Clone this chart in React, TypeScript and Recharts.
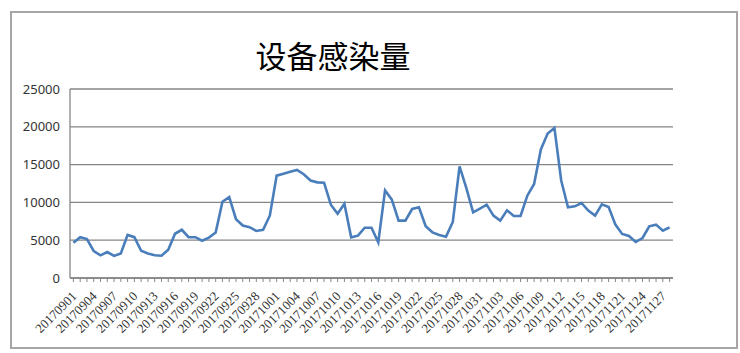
import React from 'react';
import { LineChart, Line, XAxis, YAxis, CartesianGrid } from 'recharts';

const title = '设备感染量';

const dates = [
  '20170901', '20170902', '20170903', '20170904', '20170905', '20170906', '20170907', '20170908', '20170909', '20170910',
  '20170911', '20170912', '20170913', '20170914', '20170915', '20170916', '20170917', '20170918', '20170919', '20170920',
  '20170921', '20170922', '20170923', '20170924', '20170925', '20170926', '20170927', '20170928', '20170929', '20170930',
  '20171001', '20171002', '20171003', '20171004', '20171005', '20171006', '20171007', '20171008', '20171009', '20171010',
  '20171011', '20171012', '20171013', '20171014', '20171015', '20171016', '20171017', '20171018', '20171019', '20171020',
  '20171021', '20171022', '20171023', '20171024', '20171025', '20171026', '20171027', '20171028', '20171029', '20171030',
  '20171031', '20171101', '20171102', '20171103', '20171104', '20171105', '20171106', '20171107', '20171108', '20171109',
  '20171110', '20171111', '20171112', '20171113', '20171114', '20171115', '20171116', '20171117', '20171118', '20171119',
  '20171120', '20171121', '20171122', '20171123', '20171124', '20171125', '20171126', '20171127', '20171128',
];

const infections = [
  4650, 5400, 5150, 3570, 3000, 3430, 2920, 3250, 5700, 5400,
  3600, 3250, 3000, 2950, 3750, 5850, 6380, 5400, 5400, 4930,
  5350, 6020, 10080, 10700, 7780, 6950, 6720, 6220, 6370, 8270,
  13540, 13800, 14050, 14290, 13720, 12900, 12650, 12610, 9700, 8500,
  9830, 5380, 5600, 6650, 6650, 4720, 11600, 10360, 7590, 7590,
  9130, 9350, 6840, 6040, 5690, 5470, 7410, 14770, 11900, 8690,
  9170, 9700, 8250, 7590, 8950, 8200, 8200, 10890, 12440, 17000,
  19100, 19850, 12900, 9350, 9480, 9920, 8910, 8250, 9750, 9390,
  7060, 5820, 5560, 4760, 5290, 6840, 7060, 6260, 6700,
];

const yTicks = [0, 5000, 10000, 15000, 20000, 25000];
const labelStep = 3;

const data = dates.map((d, i) => ({ date: d, value: infections[i] }));

const XTick = (props: any) => {
  const { x, y, payload } = props;
  const idx = dates.indexOf(payload.value);
  if (idx % labelStep !== 0) return <g />;
  const ax = x + 4;
  const ay = y + 13;
  return (
    <text
      x={ax}
      y={ay}
      textAnchor="end"
      transform={`rotate(-45 ${ax} ${ay})`}
      fontSize={13}
      fontFamily="'Liberation Serif', serif"
      fill="#333"
    >
      {payload.value}
    </text>
  );
};

export default function App() {
  return (
    <div style={{ position: 'relative', width: 740, height: 353, overflow: 'hidden', background: '#fff' }}>
      <style>{`html,body{margin:0;padding:0;overflow:hidden;background:#fff}`}</style>
      <div
        style={{
          position: 'absolute',
          left: 10,
          top: 11,
          width: 728,
          height: 338,
          boxSizing: 'border-box',
          border: '2px solid #a6a6a6',
        }}
      />
      <div style={{ position: 'absolute', left: 0, top: 0 }}>
        <LineChart width={740} height={353} data={data} margin={{ top: 89, right: 67, bottom: 0, left: 10 }}>
          <CartesianGrid vertical={false} stroke="#868686" strokeWidth={1.3} />
          <XAxis
            dataKey="date"
            type="category"
            interval={0}
            padding={{ left: 3.4, right: 3.4 }}
            height={75}
            tick={<XTick />}
            tickSize={4}
            tickMargin={2}
            axisLine={{ stroke: '#868686', strokeWidth: 1.3 }}
            tickLine={{ stroke: '#868686' }}
          />
          <YAxis
            domain={[0, 25000]}
            ticks={yTicks}
            interval={0}
            width={60}
            tickLine={false}
            tickSize={8}
            tickMargin={2}
            axisLine={{ stroke: '#868686', strokeWidth: 1.3 }}
            tick={{ fontSize: 13, fontFamily: "'Noto Sans', sans-serif", fill: '#333' }}
          />
          <Line
            type="linear"
            dataKey="value"
            stroke="#4A7EBB"
            strokeWidth={2.6}
            dot={false}
            activeDot={false}
            isAnimationActive={false}
          />
        </LineChart>
      </div>
      <div
        style={{
          position: 'absolute',
          left: 0,
          top: 36,
          width: 666,
          textAlign: 'center',
          fontSize: 31,
          lineHeight: '38px',
          fontFamily: "'Noto Sans CJK SC', sans-serif",
          color: '#000',
        }}
      >
        {title}
      </div>
    </div>
  );
}
